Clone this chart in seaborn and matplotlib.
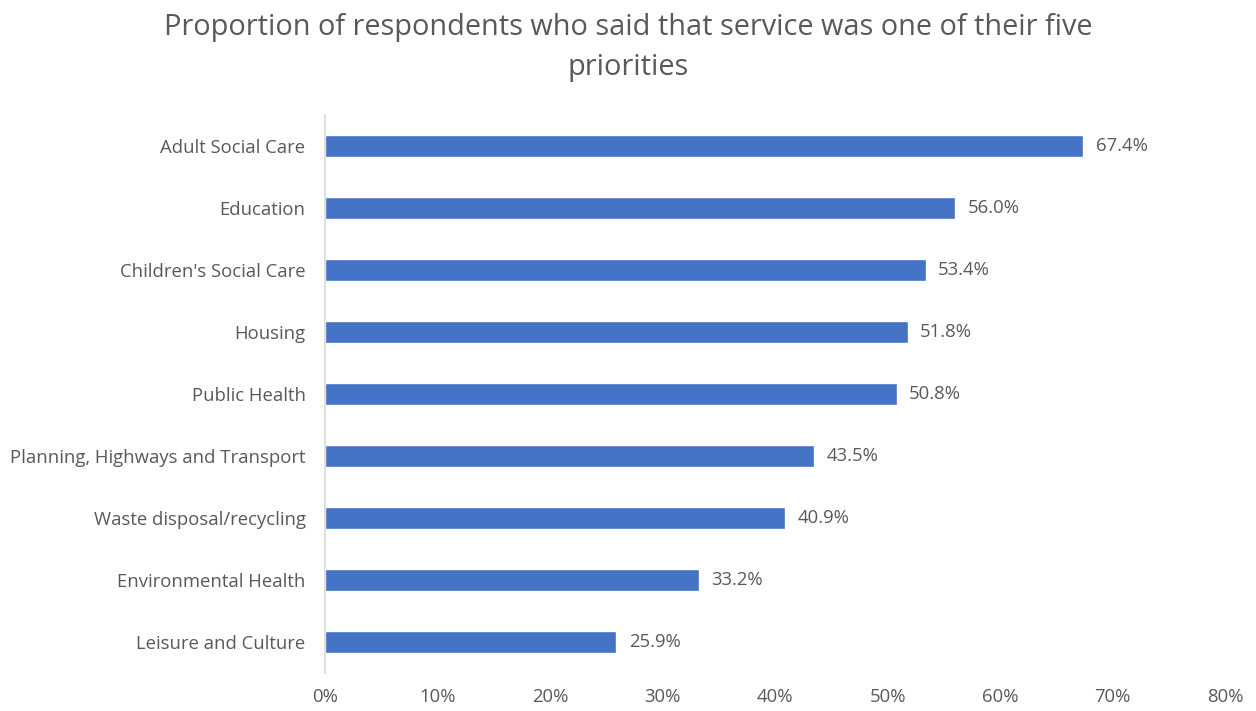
import matplotlib
matplotlib.use('Agg')
import matplotlib.pyplot as plt
import seaborn as sns
import pandas as pd
from matplotlib.ticker import FuncFormatter

sns.set_theme(style='white')
plt.rcParams['font.family'] = ['Open Sans', 'DejaVu Sans']

# data
services = ['Adult Social Care', 'Education', "Children's Social Care", 'Housing',
            'Public Health', 'Planning, Highways and Transport',
            'Waste disposal/recycling', 'Environmental Health', 'Leisure and Culture']
shares = [67.4, 56.0, 53.4, 51.8, 50.8, 43.5, 40.9, 33.2, 25.9]

df = pd.DataFrame({'Service': services, 'Share': shares})

text_col = '#595959'
bar_col = '#4472C4'

fig = plt.figure(figsize=(12.56, 7.11), dpi=100)
ax = fig.add_axes([0.2588, 0.0534, 0.7166, 0.7846])

sns.barplot(data=df, y='Service', x='Share', color=bar_col, width=0.36,
            saturation=1, ax=ax, orient='h')

for i, v in enumerate(shares):
    ax.text(v + 1.1, i, f'{v:.1f}%', va='center', ha='left',
            fontsize=13.3, color=text_col)

ax.set_xlim(0, 80)
ax.set_xticks(range(0, 81, 10))
ax.xaxis.set_major_formatter(FuncFormatter(lambda x, p: f'{x:.0f}%'))
ax.set_xlabel('')
ax.set_ylabel('')
ax.tick_params(axis='x', length=0, pad=11, labelsize=13.3, labelcolor=text_col)
ax.tick_params(axis='y', length=0, pad=14, labelsize=13.3, labelcolor=text_col)

for s in ['top', 'right', 'bottom']:
    ax.spines[s].set_visible(False)
ax.spines['left'].set_color('#d9d9d9')
ax.spines['left'].set_linewidth(1.2)
ax.grid(False)

fig.text(0.5, 0.933, 'Proportion of respondents who said that service was one of their five\npriorities',
         ha='center', va='center', fontsize=20.8, color=text_col, linespacing=1.5)

fig.savefig('out.png', dpi=100)
